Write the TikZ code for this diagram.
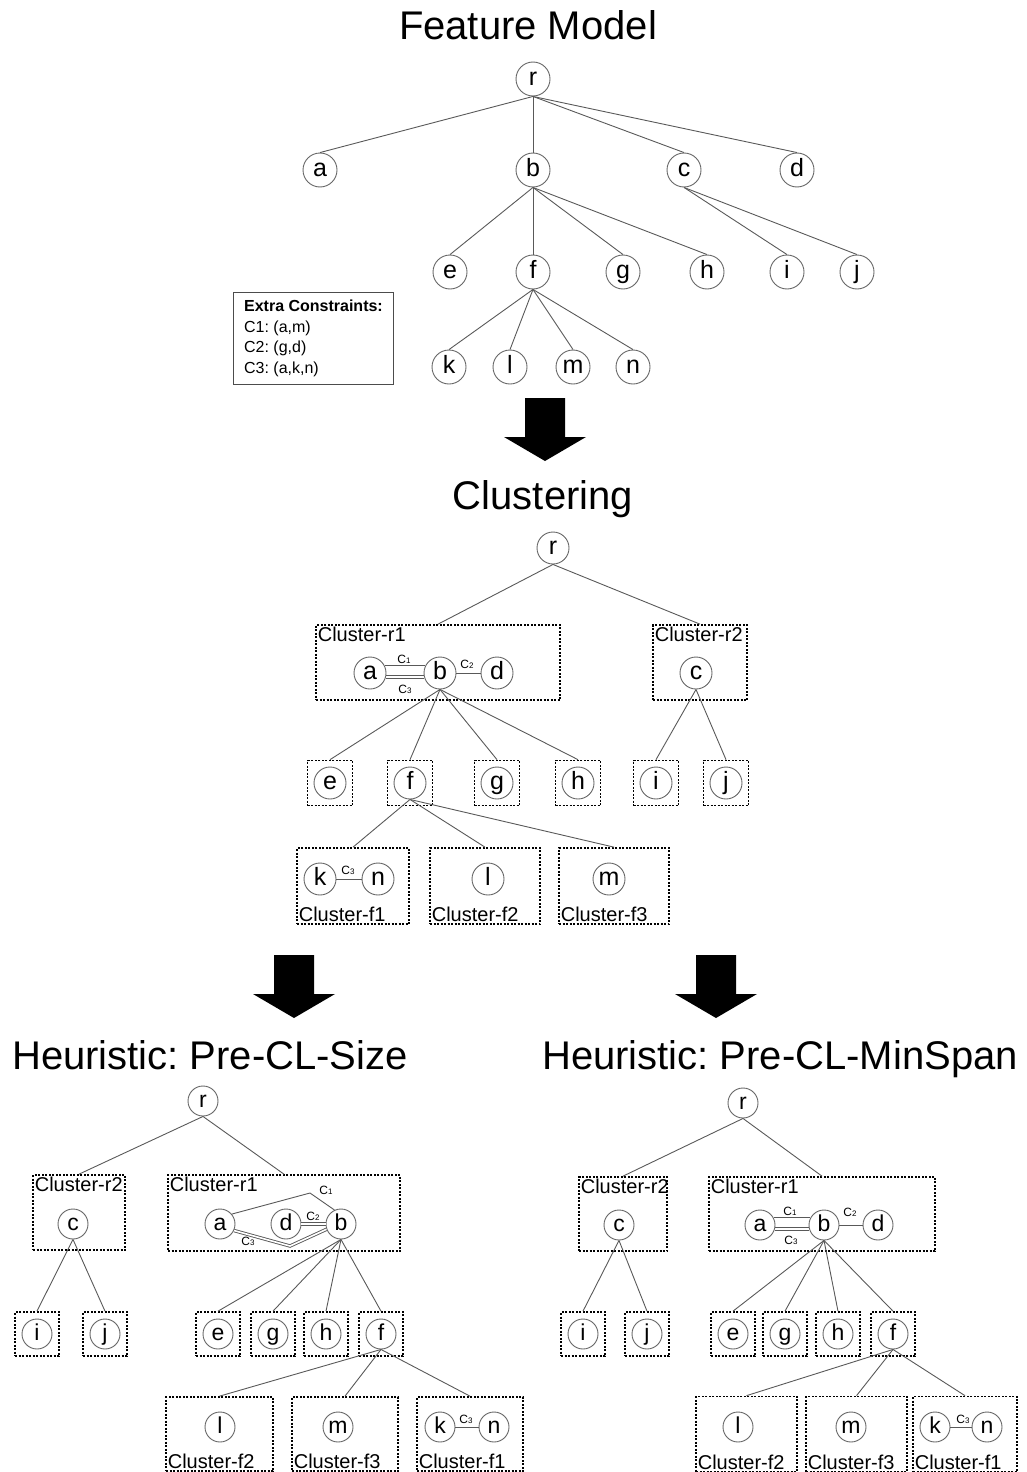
\documentclass[tikz,border=0pt]{standalone}
\usepackage{fontspec}
\setmainfont{Liberation Sans}
\usetikzlibrary{positioning}
\frenchspacing

\tikzset{
  fnode/.style={circle, draw=black!60, line width=0.9pt, minimum size=34pt, inner sep=0pt,
                text height=17pt, text depth=4pt, font=\fontsize{25}{25}\selectfont},
  cnode/.style={fnode, minimum size=32pt},
  snode/.style={fnode, minimum size=30pt, text height=16pt, text depth=3.5pt,
                font=\fontsize{23}{23}\selectfont},
  edge/.style={draw=black!65, line width=0.9pt},
  clbox/.style={draw, line width=1.7pt, dash pattern=on 2pt off 1.5pt, inner sep=0pt},
  cllabel/.style={font=\fontsize{20}{20}\selectfont, inner sep=2.5pt},
  title/.style={font=\fontsize{40}{40}\selectfont, anchor=base},
  cst/.style={font=\fontsize{12}{12}\selectfont, inner sep=0pt},
  pics/downarrow/.style={code={
    \fill (-20,0) -- (20,0) -- (20,39) -- (41,39) -- (0,63) -- (-41,39) -- (-20,39) -- cycle;}},
}
\newcommand{\cnum}[1]{C{\fontsize{8}{8}\selectfont #1}}

\begin{document}
\begin{tikzpicture}[x=1pt, y=-1pt]
    \useasboundingbox (0,0) rectangle (1027,1472);

    % Titles
    \node[title] (tfm) at (528,40) {Feature Model};
    \node[title] (tcl) at (543,509) {Clustering};
    \node[title] (tsz) at (210,1069) {Heuristic: Pre-CL-Size};
    \node[title] (tms) at (780,1069) {Heuristic: Pre-CL-MinSpan};

    % Arrows
    \pic at (545,398) {downarrow};
    \pic at (294,955) {downarrow};
    \pic at (716,955) {downarrow};

    % ---------- Feature model ----------
    \foreach \n/\x/\y in {r/533/79, a/320/170, b/533/170, c/684/170, d/797/170,
        e/450/272, f/533/272, g/623/272, h/707/272, i/787/272, j/857/272,
        k/449/367, l/510/367, m/573/367, n/633/367}
        \node[fnode] (t\n) at (\x,\y) {\n};
    \foreach \p/\c in {r/a, r/b, r/c, r/d, b/e, b/f, b/g, b/h, c/i, c/j, f/k, f/l, f/m, f/n}
        \draw[edge] (t\p.south) -- (t\c.north);

    % Extra constraints
    \node[draw=black!70, line width=1pt, align=left, anchor=north west,
          minimum width=160pt, minimum height=92pt,
          font=\fontsize{16}{20.5}\selectfont] (xc) at (233,292)
        {\textbf{Extra Constraints:}\\C1: (a,m)\\C2: (g,d)\\C3: (a,k,n)};

    % ---------- Clustering ----------
    \node[cnode] (kr) at (553,548) {r};
    \node[clbox, minimum width=244pt, minimum height=75pt] (kcr1) at (438,662.5) {};
    \node[clbox, minimum width=94pt, minimum height=75pt] (kcr2) at (700,662.5) {};
    \node[cllabel, anchor=north west] (kl1) at (kcr1.north west) {Cluster-r1};
    \node[cllabel, anchor=north west] (kl2) at (kcr2.north west) {Cluster-r2};
    \foreach \n/\x in {a/370, b/440, d/497, c/696}
        \node[cnode] (k\n) at (\x,673) {\n};
    \foreach \n/\x in {e/330, f/410, g/497, h/578, i/656, j/726}{
        \node[clbox, minimum size=45pt] (kb\n) at (\x,783) {};
        \node[cnode] (k\n) at (\x,783) {\n};
    }
    \node[clbox, minimum width=112pt, minimum height=76pt] (kcf1) at (353,886) {};
    \node[clbox, minimum width=110pt, minimum height=76pt] (kcf2) at (485,886) {};
    \node[clbox, minimum width=110pt, minimum height=76pt] (kcf3) at (614,886) {};
    \foreach \i in {1,2,3}
        \node[cllabel, anchor=south west] (klf\i) at (kcf\i.south west) {Cluster-f\i};
    \foreach \n/\x in {k/320, n/378, l/488, m/609}
        \node[cnode] (k\n) at (\x,879) {\n};

    \draw[edge] (kr.south) -- (kcr1.north);
    \draw[edge] (kr.south) -- (kcr2.north);
    \foreach \c in {e,f,g,h}
        \draw[edge] (kb.south) -- (kb\c.north);
    \foreach \c in {i,j}
        \draw[edge] (kc.south) -- (kb\c.north);
    \foreach \c in {1,2,3}
        \draw[edge] (kf.south) -- (kcf\c.north);

    % constraints
    \draw[edge] (ka.28) -- (kb.152);
    \draw[edge] (ka.-10) -- (kb.190);
    \draw[edge] (ka.-19) -- (kb.199);
    \draw[edge] (kb.east) -- (kd.west);
    \draw[edge] (kk.east) -- (kn.west);
    \node[cst] (kc1) at (404,659) {\cnum{1}};
    \node[cst] (kc3) at (405,689) {\cnum{3}};
    \node[cst] (kc2) at (467,664) {\cnum{2}};
    \node[cst] (kc3b) at (348,870) {\cnum{3}};

    % ---------- Pre-CL-Size ----------
    \node[snode] (lr) at (203,1101) {r};
    \node[clbox, minimum width=92pt, minimum height=75pt] (lcr2) at (79,1212.5) {};
    \node[clbox, minimum width=232pt, minimum height=76pt] (lcr1) at (284,1213) {};
    \node[cllabel, anchor=north west] (ll2) at (lcr2.north west) {Cluster-r2};
    \node[cllabel, anchor=north west] (ll1) at (lcr1.north west) {Cluster-r1};
    \foreach \n/\x in {c/73, a/220, d/286, b/341}
        \node[snode] (l\n) at (\x,1224) {\n};
    \foreach \n/\x in {i/37, j/105, e/218, g/273, h/326, f/381}{
        \node[clbox, minimum size=44pt] (lb\n) at (\x,1334) {};
        \node[snode] (l\n) at (\x,1334) {\n};
    }
    \node[clbox, minimum width=107pt, minimum height=74pt] (lcf2) at (219.5,1434) {};
    \node[clbox, minimum width=106pt, minimum height=74pt] (lcf3) at (345,1434) {};
    \node[clbox, minimum width=106pt, minimum height=74pt] (lcf1) at (470,1434) {};
    \foreach \i in {1,2,3}
        \node[cllabel, anchor=south west] (llf\i) at (lcf\i.south west) {Cluster-f\i};
    \foreach \n/\x in {l/220, m/338, k/440, n/494}
        \node[snode] (l\n) at (\x,1427) {\n};

    \draw[edge] (lr.south) -- (lcr2.north);
    \draw[edge] (lr.south) -- (lcr1.north);
    \foreach \c in {i,j}
        \draw[edge] (lc.south) -- (lb\c.north);
    \foreach \c in {e,g,h,f}
        \draw[edge] (lb.south) -- (lb\c.north);
    \foreach \c in {2,3,1}
        \draw[edge] (lf.south) -- (lcf\c.north);

    % constraints
    \coordinate (lp1) at (310,1193);
    \coordinate (lp3) at (290,1246);
    \draw[edge] (la.40) -- (lp1) -- (lb.115);
    \draw[edge, double, double distance=1.6pt] (la.-25) -- (lp3) -- (lb.-160);
    \draw[edge, double, double distance=1.6pt] (ld.east) -- (lb.west);
    \draw[edge] (lk.east) -- (ln.west);
    \node[cst] (lc1) at (326,1190) {\cnum{1}};
    \node[cst] (lc2) at (313,1216) {\cnum{2}};
    \node[cst] (lc3) at (248,1241) {\cnum{3}};
    \node[cst] (lc3b) at (466,1419) {\cnum{3}};

    % ---------- Pre-CL-MinSpan ----------
    \node[snode] (qr) at (743,1103) {r};
    \node[clbox, minimum width=88pt, minimum height=74pt] (qcr2) at (623,1214) {};
    \node[clbox, minimum width=226pt, minimum height=74pt] (qcr1) at (822,1214) {};
    \node[cllabel, anchor=north west] (ql2) at (qcr2.north west) {Cluster-r2};
    \node[cllabel, anchor=north west] (ql1) at (qcr1.north west) {Cluster-r1};
    \foreach \n/\x in {c/619, a/760, b/824, d/878}
        \node[snode] (q\n) at (\x,1225) {\n};
    \foreach \n/\x in {i/583, j/647, e/733, g/785, h/838, f/893}{
        \node[clbox, minimum size=44pt] (qb\n) at (\x,1334) {};
        \node[snode] (q\n) at (\x,1334) {\n};
    }
    \node[clbox, minimum width=101pt, minimum height=75pt] (qcf2) at (746.5,1434) {};
    \node[clbox, minimum width=101pt, minimum height=75pt] (qcf3) at (856.5,1434) {};
    \node[clbox, minimum width=104pt, minimum height=75pt] (qcf1) at (965,1434) {};
    \foreach \i in {1,2,3}
        \node[cllabel, anchor=south west] (qlf\i) at (qcf\i.south west) {Cluster-f\i};
    \foreach \n/\x in {l/738, m/851, k/935, n/987}
        \node[snode] (q\n) at (\x,1427) {\n};

    \draw[edge] (qr.south) -- (qcr2.north);
    \draw[edge] (qr.south) -- (qcr1.north);
    \foreach \c in {i,j}
        \draw[edge] (qc.south) -- (qb\c.north);
    \foreach \c in {e,g,h,f}
        \draw[edge] (qb.south) -- (qb\c.north);
    \foreach \c in {2,3,1}
        \draw[edge] (qf.south) -- (qcf\c.north);

    % constraints
    \draw[edge] (qa.28) -- (qb.152);
    \draw[edge] (qa.-10) -- (qb.190);
    \draw[edge] (qa.-19) -- (qb.199);
    \draw[edge] (qb.east) -- (qd.west);
    \draw[edge] (qk.east) -- (qn.west);
    \node[cst] (qc1) at (790,1211) {\cnum{1}};
    \node[cst] (qc3) at (791,1240) {\cnum{3}};
    \node[cst] (qc2) at (850,1212) {\cnum{2}};
    \node[cst] (qc3b) at (963,1419) {\cnum{3}};
\end{tikzpicture}
\end{document}
